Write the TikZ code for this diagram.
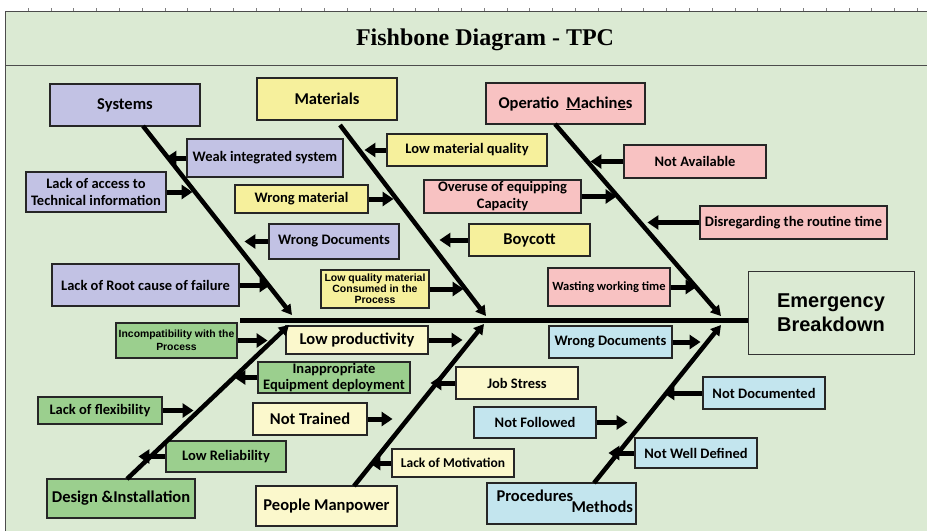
\documentclass[tikz,border=0pt]{standalone}
\usepackage{fontspec}
\setmainfont{Carlito}
\newfontfamily\titlefont{Liberation Serif}
\newfontfamily\effectfont{Liberation Sans}
\newfontfamily\smallfont{Liberation Sans}
\usepackage{tikz}
\usetikzlibrary{arrows.meta}
\definecolor{bg}{HTML}{DBEAD3}
\definecolor{sysc}{HTML}{C2C2E4}
\definecolor{matc}{HTML}{F6F09C}
\definecolor{macc}{HTML}{F8C2C2}
\definecolor{desc}{HTML}{9BCF8E}
\definecolor{pplc}{HTML}{FBF8CC}
\definecolor{metc}{HTML}{C3E5EE}

\begin{document}
\begin{tikzpicture}[x=1pt,y=-1pt,
    box/.style={draw=black!85,line width=1.1pt,inner sep=1pt,align=center,
                font=\bfseries\fontsize{14.5}{17}\selectfont},
    sz/.style 2 args={minimum width=#1pt,minimum height=#2pt},
    head/.style={font=\bfseries\fontsize{16.5}{18}\selectfont},
    big/.style={font=\bfseries\fontsize{16.5}{18}\selectfont},
    tiny/.style={font=\smallfont\bfseries\fontsize{10.5}{11}\selectfont},
    bone/.style={line width=4.5pt,-{Triangle[length=10pt,width=11pt]}},
    cause/.style={line width=5pt,-{Triangle[length=11pt,width=14pt]}}]
  \useasboundingbox (0,0) rectangle (927,531);
  \fill[white] (0,0) rectangle (927,531);
  \fill[bg] (5,11) rectangle (927,531);
  \foreach \i in {0,...,39}
    \draw[black!50] ({28+22.8*\i},8) -- ++(0,3);
  \draw[line width=1pt,black!70] (5,531) -- (5,11) -- (927,11);
  \draw[line width=1pt,black!70] (5,65) -- (927,65);
  \node[font=\titlefont\bfseries\fontsize{24}{26}\selectfont] (title) at (485,40) {Fishbone Diagram - TPC};

  \node[box,head,fill=sysc,sz={150}{42}] (sys) at (125,105) {Systems};
  \node[box,fill=sysc,sz={156}{38}] (weak_int) at (265,158) {Weak integrated system};
  \node[box,fill=sysc,sz={140}{40}] (tech_info) at (96,192) {Lack of access to\\Technical information};
  \node[box,fill=sysc,sz={130}{35}] (wrong_doc_a) at (334,241.5) {Wrong Documents};
  \node[box,fill=sysc,sz={187}{42}] (root_cause) at (145.5,285) {Lack of Root cause of failure};

  \node[box,head,fill=matc,sz={140}{42}] (mat) at (327,99) {Materials};
  \node[box,fill=matc,sz={133}{28}] (wrong_mat) at (301.5,199) {Wrong material};
  \node[box,fill=matc,sz={160}{32}] (low_qual) at (467,150) {Low material quality};
  \node[box,big,fill=matc,sz={121}{32}] (boycott) at (529.5,240) {Boycott};
  \node[box,tiny,fill=matc,sz={108}{38}] (consumed) at (375,289) {Low quality material\\Consumed in the\\Process};

  \node[box,head,fill=macc,sz={159}{41}] (mac) at (565.5,103.5) {Operatio\ \ \underline{M}achin\underline{e}s};
  \node[box,fill=macc,sz={157}{33}] (overuse) at (502.5,196.5) {Overuse of equipping\\Capacity};
  \node[box,fill=macc,sz={142}{33}] (not_avail) at (695,161.5) {Not Available};
  \node[box,fill=macc,sz={187}{33}] (routine) at (793.5,222.5) {Disregarding the routine time};
  \node[box,fill=macc,sz={122}{38},font=\bfseries\fontsize{12.5}{14}\selectfont] (wasting) at (609,287) {Wasting working time};

  \node[draw=black!80,line width=1pt,fill=bg,sz={166}{83},align=center,
        font=\effectfont\bfseries\fontsize{20}{24}\selectfont] (effect) at (831,312.5) {Emergency\\Breakdown};

  \node[box,head,fill=desc,sz={148}{39}] (des) at (121,498.5) {Design \&Installation};
  \node[box,fill=desc,sz={121}{35},font=\smallfont\bfseries\fontsize{10.4}{12.5}\selectfont] (incompat) at (176.5,340.5) {Incompatibility with the\\Process};
  \node[box,fill=desc,sz={152}{31},font=\bfseries\fontsize{14.5}{16.5}\selectfont] (inapprop) at (334,377.5) {Inappropriate\\Equipment deployment};
  \node[box,fill=desc,sz={124}{27}] (flex) at (100,410.5) {Lack of flexibility};
  \node[box,fill=desc,sz={120}{31}] (reliab) at (226,456.5) {Low Reliability};

  \node[box,head,fill=pplc,sz={141}{40}] (ppl) at (326.5,506) {People Manpower};
  \node[box,big,fill=pplc,sz={142}{28}] (low_prod) at (357,340) {Low productivity};
  \node[box,big,fill=pplc,sz={114}{32}] (not_trained) at (310,419) {Not Trained};
  \node[box,fill=pplc,sz={122}{32}] (job_stress) at (517,383) {Job Stress};
  \node[box,fill=pplc,sz={122}{28},font=\bfseries\fontsize{13.5}{15}\selectfont] (motivation) at (453,463) {Lack of Motivation};

  \node[box,fill=metc,sz={149}{41}] (meth) at (561.5,503.5) {};
  \node[head,anchor=west] (meth_a) at (493,496) {Procedures};
  \node[head,anchor=west] (meth_b) at (568,507) {Methods};
  \node[box,fill=metc,sz={123}{32}] (wrong_doc_b) at (610.5,342) {Wrong Documents};
  \node[box,fill=metc,sz={122}{31}] (not_followed) at (535,422.5) {Not Followed};
  \node[box,fill=metc,sz={122}{32}] (not_doc) at (764,393) {Not Documented};
  \node[box,fill=metc,sz={122}{30}] (not_well) at (696,453) {Not Well Defined};

  \coordinate (tail) at (240,320);
  \coordinate (b_sys) at (143,126);   \coordinate (j_sys) at (292,315);
  \coordinate (b_mat) at (340,125);   \coordinate (j_mat) at (486,316);
  \coordinate (b_mac) at (555,124);   \coordinate (j_mac) at (721,316);
  \coordinate (b_des) at (127,479);   \coordinate (j_des) at (289,325);
  \coordinate (b_ppl) at (354,486);   \coordinate (j_ppl) at (484,324);
  \coordinate (b_meth) at (594,483);  \coordinate (j_meth) at (721,325);

  \draw[line width=5pt] (tail) -- (tail -| effect.west);
  \foreach \b in {sys,mat,mac,des,ppl,meth}
    \draw[bone] (b_\b) -- (j_\b);

  \foreach \n/\a/\d in {weak_int/west/-21, tech_info/east/26, wrong_mat/east/25,
      wrong_doc_a/west/-24, root_cause/east/31, low_qual/west/-22, overuse/east/35,
      boycott/west/-29, consumed/east/34, not_avail/west/-33, routine/west/-52,
      wasting/east/26, incompat/east/30, low_prod/east/34, inapprop/west/-23,
      flex/east/31, not_trained/east/25, reliab/west/-27, job_stress/west/-25,
      not_followed/east/31, motivation/west/-22, wrong_doc_b/east/28,
      not_doc/west/-39, not_well/west/-26}
    \draw[cause] (\n.\a) -- ++(\d,0);
\end{tikzpicture}
\end{document}
